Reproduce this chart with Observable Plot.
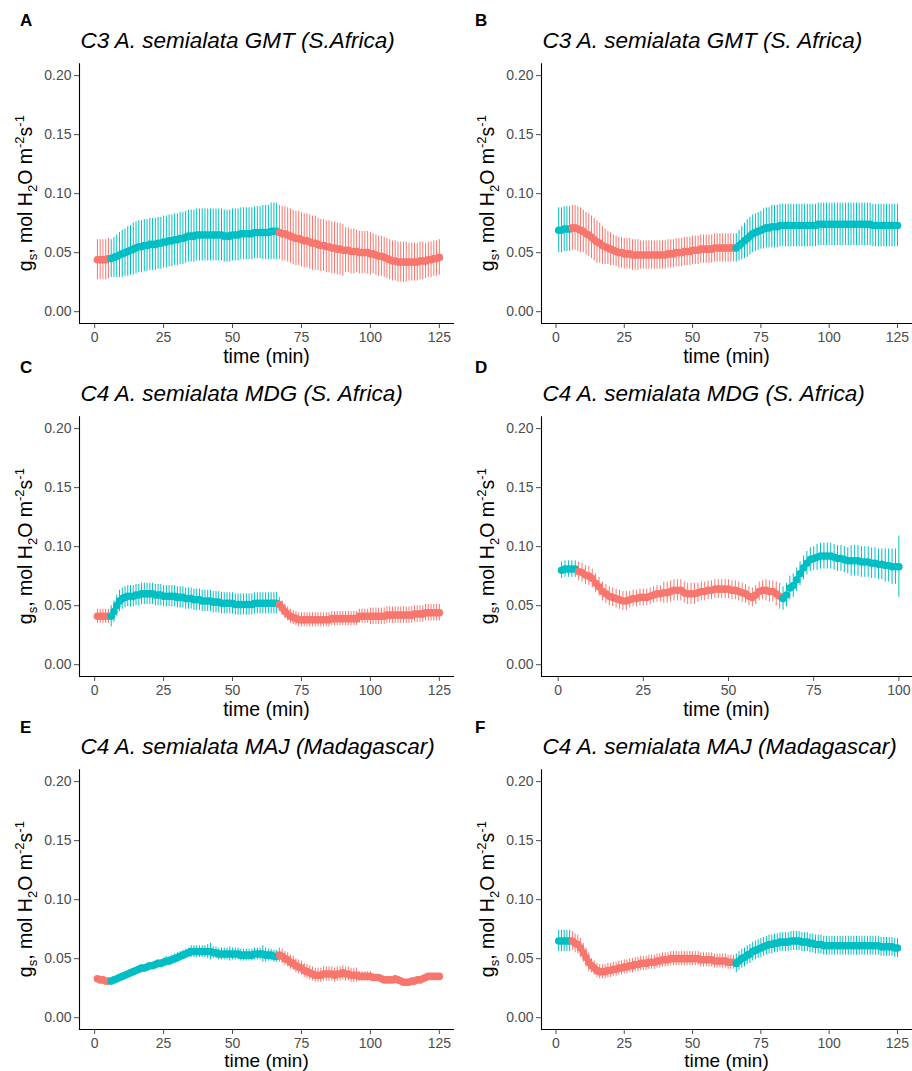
<!DOCTYPE html>
<html><head><meta charset="utf-8">
<script src="https://cdn.jsdelivr.net/npm/d3@7"></script>
<script src="https://cdn.jsdelivr.net/npm/@observablehq/plot@0.6"></script>
<style>
html,body{margin:0;padding:0;background:#fff;}
#fig{position:relative;width:912px;height:1071px;overflow:hidden;font-family:"Liberation Sans",Arial,Helvetica,sans-serif;background:#fff;}
.letter{position:absolute;font-weight:bold;font-size:17px;line-height:17px;color:#000;}
.title{position:absolute;font-style:italic;font-size:22.5px;line-height:22.5px;color:#000;white-space:nowrap;}
</style></head><body><div id="fig"></div>
<script>
// ---------- data (gs, mol H2O m-2 s-1; one value per minute starting at t = 1) ----------
const conditions = ["low light", "high light"];
const colors = ["#F8766D", "#00BFC4"];
const yTicks = [0, 0.05, 0.10, 0.15, 0.20];
const xTicks125 = [0, 25, 50, 75, 100, 125];
const xTicks100 = [0, 25, 50, 75, 100];
const letters = ["A", "B", "C", "D", "E", "F"];
const titles = [
  "C3 A. semialata GMT (S.Africa)",
  "C3 A. semialata GMT (S. Africa)",
  "C4 A. semialata MDG (S. Africa)",
  "C4 A. semialata MDG (S. Africa)",
  "C4 A. semialata MAJ (Madagascar)",
  "C4 A. semialata MAJ (Madagascar)"
];
const xLabel = "time (min)";

const aMean = [.044,.044,.044,.044,.045,
 .045,.046,.047,.048,.049,.050,.051,.052,.053,.054,
 .055,.055,.056,.056,.057,.057,.057,.058,.058,.059,
 .059,.060,.060,.061,.061,.062,.062,.063,.064,.064,
 .064,.065,.065,.065,.065,.065,.065,.065,.065,.065,
 .065,.064,.064,.064,.065,.065,.065,.066,.066,.066,
 .066,.066,.067,.067,.067,.067,.067,.067,.068,.068,
 .068,
 .067,.066,.066,.065,.064,.063,.062,.062,.061,.060,
 .060,.059,.058,.058,.057,.056,.056,.055,.055,.054,
 .054,.053,.053,.052,.052,.052,.051,.051,.051,.050,
 .050,.050,.050,.049,.049,.048,.047,.047,.046,.045,
 .044,.043,.043,.042,.042,.042,.042,.042,.042,.042,
 .042,.043,.043,.043,.044,.044,.045,.045,.046];
const aSe = [.017,.017,.017,.017,.017,
 .016,.017,.018,.019,.020,.020,.021,.021,
 .022,.022,.022,.022,.022,.022,.022,.022,.022,.022,
 .022,.022,.022,.022,.022,.022,.022,.022,.022,.022,
 .022,.022,.022,.022,.022,.022,.022,.022,.022,.022,
 .022,.022,.022,.022,.022,.022,.022,.022,.022,.022,
 .022,.022,.022,.022,.022,.022,.022,
 .023,.023,.023,.024,.024,.024,
 .023,.023,.023,.023,.023,.023,.023,.023,.023,.023,.023,.023,.023,.023,
 .022,.022,.022,.022,.022,.022,.022,.022,.022,.022,
 .019,.019,.019,.019,.018,.018,.018,.018,.018,.018,
 .017,.017,.017,.017,.017,.017,.017,.017,.017,.017,
 .017,.017,.017,.016,.016,.016,.016,.016,.016,.015,.015,.015,.015,.015,.015];
const aPhases = [[1, 5, 0], [6, 66, 1], [67, 125, 0]];

const bMean = [.069,.069,.070,.070,.070,
 .071,.071,.070,.069,.068,.066,.065,.063,.061,.059,
 .058,.056,.055,.054,.053,.052,.051,.050,.050,.049,
 .049,.049,.048,.048,.048,.048,.048,.048,.048,.048,
 .048,.048,.048,.048,.048,.049,.049,.049,.050,.050,
 .050,.051,.051,.051,.052,.052,.052,.053,.053,.053,
 .053,.053,.054,.054,.054,.054,.054,.054,.054,.054,
 .054,.056,.058,.060,.062,.064,.066,.067,.068,.069,
 .070,.071,.071,.072,.072,.072,.073,.073,.073,.073,
 .073,.073,.073,.073,.073,.073,.073,.073,.073,.073,
 .074,.074,.074,.074,.074,.074,.074,.074,.074,.074,
 .074,.074,.074,.074,.074,.074,.074,.074,.074,.074,
 .073,.073,.073,.073,.073,.073,.073,.073,.073,.073];
const bSe = [.019,.019,.019,.019,.019,
 .019,.019,.019,.019,.018,.018,.018,.018,.018,.018,
 .017,.016,.015,.014,.014,.013,.013,.013,.013,.013,
 .013,.013,.013,.013,.013,.012,.012,.012,.012,.012,
 .012,.012,.012,.012,.012,.012,.012,.012,.012,.012,
 .012,.012,.012,.012,.012,.012,.012,.012,.012,.012,
 .012,.012,.012,.012,.012,.012,.012,.012,.012,.012,
 .012,.013,.014,.015,.016,.016,.016,.016,.016,.016,
 .017,.017,.017,.018,.018,.018,.018,.018,.018,.018,
 .018,.018,.018,.018,.018,.018,.018,.018,.018,.018,
 .018,.018,.018,.018,.018,.018,.018,.018,.018,.018,
 .018,.018,.018,.018,.018,.018,.018,.018,.018,.018,
 .018,.018,.018,.018,.018,.018,.018,.018,.018,.018];
const bPhases = [[1, 5, 1], [6, 65, 0], [66, 125, 1]];

const cMean = [.041,.041,.041,.041,.041,
 .041,.045,.050,.054,.056,.057,.058,.058,.058,.059,
 .059,.060,.060,.060,.060,.060,.059,.059,.059,.058,
 .058,.058,.058,.058,.057,.057,.057,.056,.056,.056,
 .055,.055,.055,.054,.054,.054,.054,.053,.053,.053,
 .052,.052,.052,.052,.052,.051,.051,.051,.051,.051,
 .051,.051,.052,.052,.052,.052,.052,.052,.052,.052,
 .052,
 .051,.048,.045,.043,.041,.040,.039,.038,.038,
 .038,.038,.038,.038,.038,.038,.038,.038,.038,.038,
 .039,.039,.039,.039,.039,.039,.039,.039,.039,.039,
 .041,.041,.041,.041,.041,.041,.041,.041,.041,.041,
 .042,.042,.042,.042,.042,.042,.042,.042,.042,.042,
 .043,.043,.043,.043,.044,.044,.044,.044,.044,.044];
const cSe = [.006,.006,.006,.006,.006,
 .009,.009,.009,.009,.009,.009,.009,.009,.009,.009,
 .009,.009,.009,.009,.009,.009,.009,.009,.009,.009,
 .009,.009,.009,.009,.009,.009,.009,.009,.009,.009,
 .009,.009,.009,.009,.009,.009,.009,.009,.009,.009,
 .009,.009,.009,.009,.009,.009,.009,.009,.009,.009,
 .009,.009,.009,.009,.009,.009,.009,.009,.009,.009,
 .009,
 .006,.006,.006,.006,.006,.006,.006,.006,.006,.006,
 .006,.006,.006,.006,.006,.006,.006,.006,.006,.006,
 .006,.006,.006,.006,.006,.006,.006,.006,.006,.006,
 .006,.006,.006,
 .007,.007,.007,.007,.007,.007,.007,.007,.007,.007,
 .007,.007,.007,.007,.007,.007,.007,.007,.007,.007,
 .007,.007,.007,.007,.007,.007];
const cPhases = [[1, 5, 0], [6, 66, 1], [67, 125, 0]];

const dMean = [.080,.081,.081,.081,.081,
 .079,.078,.076,.075,.073,.069,.066,.062,.060,.058,
 .057,.056,.055,.054,.054,.055,.056,.056,.057,.057,
 .057,.058,.059,.060,.060,.061,.061,.062,.063,.063,
 .063,.061,.060,.060,.060,.061,.062,.062,.063,.063,
 .064,.064,.064,.064,.064,.063,.063,.062,.061,.060,
 .058,.057,.059,.062,.063,.063,.062,.062,.060,.058,
 .056,.059,.065,.067,.072,.077,.082,.086,.089,.090,
 .091,.092,.092,.092,.092,.091,.090,.090,.089,.088,
 .088,.088,.088,.087,.087,.087,.086,.086,.085,.085,
 .084,.084,.083,.083,.083];
const dSe = [.007,.007,.007,.007,.007,
 .008,.008,.008,.008,.008,
 .008,.008,.008,.008,.008,.008,.008,.008,.008,.008,
 .007,.007,.007,.007,.007,.007,.007,.007,.007,.007,
 .009,.009,.009,.009,.009,.009,.009,.009,.009,.009,
 .008,.008,.008,.008,.008,.008,.008,.008,.008,.008,
 .008,.008,.008,.008,.008,.008,.008,.008,.008,.008,
 .009,.009,.009,.010,.011,
 .010,.010,.010,.010,.010,.010,.010,.010,.010,.010,
 .011,.011,.011,.011,.011,.011,.011,.011,.011,.011,
 .013,.013,.013,.013,.013,.013,.013,.013,.013,.013,
 .014,.014,.015,.015,.026];
const dPhases = [[1, 5, 1], [6, 65, 0], [66, 100, 1]];

const eMean = [.033,.032,.032,.031,.031,
 .031,.032,.033,.034,.035,.036,.037,.038,.039,.040,
 .041,.042,.042,.043,.044,.044,.045,.046,.046,.047,
 .048,.048,.049,.050,.051,.052,.053,.054,.055,.056,
 .056,.056,.056,.056,.056,.056,.056,.055,.055,.054,
 .054,.054,.054,.054,.054,.054,.054,.053,.053,.053,
 .053,.053,.054,.054,.054,.054,.053,.053,.053,.052,
 .052,
 .053,.052,.050,.049,.047,.046,.044,.043,.042,.040,
 .039,.038,.037,.036,.036,.036,.037,.037,.037,.037,
 .036,.037,.037,.038,.037,.037,.036,.036,.036,.035,
 .035,.035,.035,.035,.034,.034,.034,.033,.032,.032,
 .032,.032,.033,.032,.031,.030,.030,.030,.031,.031,
 .032,.032,.033,.034,.035,.035,.035,.035,.035];
const eSe = [.002,.002,.002,.002,.002,
 .002,.002,.002,.002,.002,.002,.002,.002,.002,.002,
 .003,.003,.003,.003,.003,.003,.003,.003,.003,.003,
 .004,.004,.004,.004,.004,.004,.004,.004,.004,
 .005,.005,.005,.005,.005,.005,.006,.007,.005,.005,
 .005,.005,.005,.005,.006,.005,.005,.005,.005,.005,
 .005,.005,.005,.005,.005,.005,.007,.006,.005,.005,
 .005,.005,
 .006,.006,.006,.006,.006,.006,.006,.006,.006,.006,
 .006,.006,.006,.006,.006,.006,.006,.006,.006,.006,
 .006,.006,.006,.006,.006,.006,.006,.006,.006,
 .004,.004,.004,.004,.004,
 .002,.002,.002,.002,.002,.002,.002,.002,.002,.002,
 .002,.002,.002,.002,.002,.002,.002,.002,.002,.002,
 .002,.002,.002,.002,.002];
const ePhases = [[1, 5, 0], [6, 66, 1], [67, 125, 0]];

const fMean = [.065,.065,.065,.065,.065,
 .065,.063,.062,.059,.055,.051,.047,.044,.042,.040,
 .039,.039,.039,.040,.040,.041,.041,.042,.042,.043,
 .043,.044,.044,.045,.045,.046,.046,.046,.047,.047,
 .047,.048,.048,.049,.049,.049,.050,.050,.050,.050,
 .050,.050,.050,.050,.050,.050,.050,.049,.049,.049,
 .049,.049,.048,.048,.048,.048,.048,.047,.047,.047,
 .046,.048,.050,.051,.053,.054,.056,.057,.058,.059,
 .060,.061,.062,.062,.063,.063,.064,.064,.064,.064,
 .065,.065,.065,.065,.064,.064,.064,.063,.063,.062,
 .062,.062,.061,.061,.061,.061,.061,.061,.061,.061,
 .061,.061,.061,.061,.061,.061,.061,.061,.061,.061,
 .061,.061,.061,.060,.060,.060,.060,.060,.059,.059];
const fSe = [.009,.009,.009,.009,.009,
 .008,.008,.008,.008,.008,.008,.008,
 .006,.006,.006,.006,.006,.006,.006,.006,.006,.006,
 .006,.006,.006,.006,.006,.006,.006,.006,.006,.006,
 .006,.006,.006,.006,.006,.006,.006,.006,.006,.006,
 .006,.006,.006,.006,.006,.006,.006,.006,.006,.006,
 .006,.006,.006,.006,.006,.006,.006,.006,.006,.006,
 .006,.006,.006,
 .008,.008,.008,.008,.008,.008,.008,.008,.008,.008,
 .008,.008,.008,.008,.008,.008,.008,.008,.008,.008,
 .008,.008,.008,.008,.008,.008,.008,.008,.008,.008,
 .008,.008,.008,.008,.008,.008,.008,.008,.008,.008,
 .008,.008,.008,.008,.008,.008,.008,.008,.008,.008,
 .008,.008,.008,.008,.008,.008,.008,.008,.008,.008];
const fPhases = [[1, 5, 1], [6, 65, 0], [66, 125, 1]];

// ---------- layout ----------
const colLeft = [0, 455];
const colWidth = [456, 457];
const colMarginLeft = [79, 86];
const colMarginRight = [2, 0];
const rowTop = [0, 353, 706];
const letterBaseline = [26, 373, 733];
const xLabelY = [313, 313, 311];
const xLabelSize = [19.5, 19.5, 19];
const svgOffset = 50, svgHeight = 320, mTop = 13.3, mBottom = 47;

const panels = [
  {mean: aMean, se: aSe, phases: aPhases, xDomain: [-5.5, 130.5], xTicks: xTicks125},
  {mean: bMean, se: bSe, phases: bPhases, xDomain: [-5.3, 130.5], xTicks: xTicks125},
  {mean: cMean, se: cSe, phases: cPhases, xDomain: [-5.5, 130.5], xTicks: xTicks125},
  {mean: dMean, se: dSe, phases: dPhases, xDomain: [-4.9, 104], xTicks: xTicks100},
  {mean: eMean, se: eSe, phases: ePhases, xDomain: [-5.5, 130.5], xTicks: xTicks125},
  {mean: fMean, se: fSe, phases: fPhases, xDomain: [-5.3, 130.5], xTicks: xTicks125}
];

const fig = document.getElementById("fig");
const FONT = '"Liberation Sans", Arial, Helvetica, sans-serif';

panels.forEach((p, k) => {
  const col = k % 2, row = Math.floor(k / 2);
  const left = colLeft[col], top = rowTop[row];
  const width = colWidth[col], ml = colMarginLeft[col], mr = colMarginRight[col];
  const condOf = t => { for (const [a, b, c] of p.phases) if (t >= a && t <= b) return conditions[c]; return conditions[0]; };
  const rows = p.mean.map((m, i) => ({t: i + 1, mean: m, se: p.se[i], cond: condOf(i + 1)}));

  const svg = Plot.plot({
    width, height: svgHeight,
    marginTop: mTop, marginBottom: mBottom, marginLeft: ml, marginRight: mr,
    style: {background: "transparent", fontFamily: FONT, fontSize: "14px", color: "#4D4D4D", overflow: "visible"},
    x: {domain: p.xDomain, ticks: p.xTicks, tickSize: 5, tickPadding: 4, label: null},
    y: {domain: [-0.01, 0.21], ticks: yTicks, tickFormat: d3.format(".2f"), tickSize: 5, tickPadding: 3, label: null},
    color: {domain: conditions, range: colors},
    marks: [
      Plot.ruleX(rows, {x: "t", y1: d => d.mean - d.se, y2: d => d.mean + d.se, stroke: "cond", strokeWidth: 1}),
      Plot.dot(rows, {x: "t", y: "mean", fill: "cond", r: 3.8}),
      Plot.ruleX([p.xDomain[0]], {stroke: "#000", strokeWidth: 1.1}),
      Plot.ruleY([-0.01], {stroke: "#000", strokeWidth: 1.1})
    ]
  });
  svg.style.position = "absolute";
  svg.style.left = left + "px";
  svg.style.top = (top + svgOffset) + "px";

  const s = d3.select(svg);
  // x axis title
  s.append("text")
    .attr("x", (ml + width - mr) / 2).attr("y", xLabelY[row])
    .attr("text-anchor", "middle")
    .style("font-family", FONT).style("font-size", xLabelSize[row] + "px").attr("fill", "#000")
    .text(xLabel);
  // y axis title with sub/superscripts
  const yl = s.append("text")
    .attr("transform", `translate(${ml - 47},${(mTop + svgHeight - mBottom) / 2}) rotate(-90)`)
    .attr("text-anchor", "middle")
    .style("font-family", FONT).attr("fill", "#000");
  const parts = [
    ["g", 19.5, 0], ["s", 13, 5], [", mol H", 19.5, -5], ["2", 13, 5], ["O m", 19.5, -5],
    ["-2", 13, -8], ["s", 19.5, 8], ["-1", 13, -8]
  ];
  parts.forEach(([txt, fs, dy]) => {
    yl.append("tspan").attr("dy", dy).style("font-size", fs + "px").text(txt);
  });
  fig.appendChild(svg);

  const L = document.createElement("div");
  L.className = "letter";
  L.textContent = letters[k];
  L.style.left = (left + 20) + "px";
  L.style.top = (letterBaseline[row] - 0.8465 * 17) + "px";
  fig.appendChild(L);

  const T = document.createElement("div");
  T.className = "title";
  T.textContent = titles[k];
  T.style.left = (left + ml + 1.5) + "px";
  T.style.top = (top + 49.3 - 0.8465 * 22.5) + "px";
  fig.appendChild(T);
});
</script>
</body></html>
